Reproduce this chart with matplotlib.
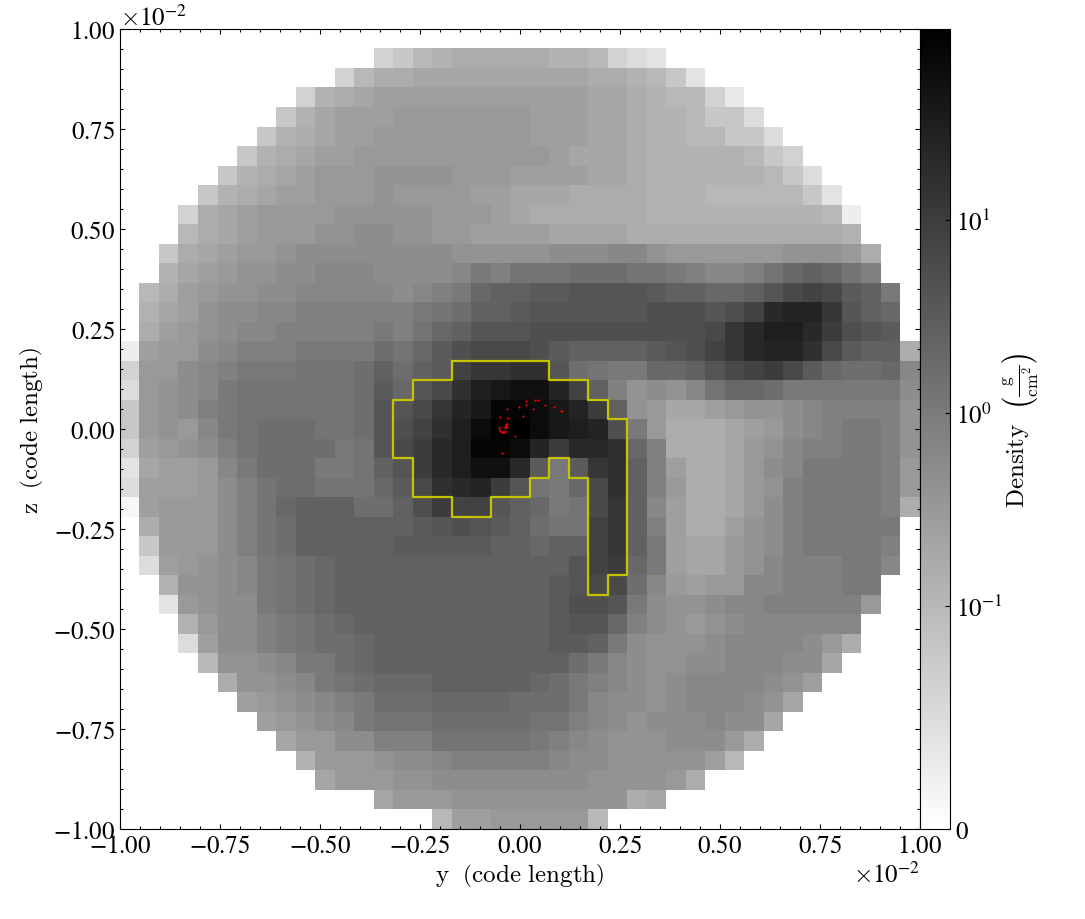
"""Gas density slice with a clump contour and sink particles, on a symlog grey scale."""
import matplotlib
matplotlib.use("Agg")
import matplotlib.pyplot as plt
from matplotlib.colors import SymLogNorm
from matplotlib.ticker import AutoMinorLocator, FixedFormatter, FixedLocator
import numpy as np

plt.rcParams["font.family"] = "STIXGeneral"
plt.rcParams["mathtext.fontset"] = "cm"

N_CELLS = 41
HALF_WIDTH = 1.0e-2

# log10(density) in tenths of a dex, read off the grey levels row by row from the
# top. Each row is centred on the grid; anything outside it is empty.
LOG_DENSITY_ROWS = [
    [],
    [-12, -11, -10, -9, -8, -8, -8, -8, -8, -9, -9, -10, -12, -13, -14],
    [-12, -10, -8, -8, -7, -7, -7, -7, -7, -7, -7, -7, -7, -8, -8, -9, -10, -11, -14],
    [-12, -9, -8, -7, -6, -6, -6, -6, -6, -6, -6, -6, -6, -6, -6, -7, -7, -8, -9, -10, -10, -12, -15],
    [-11, -9, -7, -6, -6, -6, -5, -5, -5, -5, -5, -5, -5, -6, -6, -6, -7, -7, -8, -9, -9, -10, -11, -11, -13],
    [-11, -9, -8, -7, -6, -6, -5, -5, -5, -5, -5, -5, -5, -5, -6, -6, -6, -7, -7, -8, -9, -9, -10, -10, -11, -11, -13],
    [-11, -9, -8, -7, -6, -6, -5, -5, -5, -5, -5, -5, -5, -5, -5, -5, -6, -7, -7, -7, -8, -9, -9, -9, -9, -9, -10, -11, -12],
    [-11, -9, -8, -7, -6, -5, -5, -5, -4, -4, -4, -4, -5, -5, -5, -6, -6, -6, -6, -7, -7, -8, -9, -9, -9, -9, -9, -9, -10, -11, -13],
    [-11, -9, -8, -7, -6, -6, -5, -5, -5, -4, -5, -5, -5, -5, -6, -6, -7, -7, -7, -8, -8, -8, -8, -9, -9, -9, -10, -10, -10, -10, -10, -11, -14],
    [-12, -8, -7, -6, -5, -5, -5, -5, -4, -4, -4, -4, -4, -5, -5, -5, -6, -7, -8, -8, -8, -8, -8, -8, -9, -9, -9, -9, -9, -9, -9, -9, -9, -10, -16],
    [-10, -8, -7, -6, -5, -5, -5, -4, -4, -3, -3, -4, -4, -5, -5, -6, -6, -6, -6, -7, -7, -7, -7, -8, -8, -8, -8, -8, -8, -8, -8, -8, -8, -8, -9],
    [-11, -8, -7, -6, -5, -5, -4, -3, -3, -3, -3, -3, -3, -3, -3, -4, -4, -4, -4, -4, -3, -3, -3, -2, -2, -4, -5, -5, -5, -5, -5, -5, -4, -4, -4, -5, -8],
    [-9, -7, -6, -5, -4, -4, -3, -3, -2, -2, -2, -3, -3, -3, -3, -2, 0, -1, 1, 1, 1, 2, 2, 2, 1, 1, 0, -1, -2, -2, -1, 1, 3, 4, 3, 1, -1],
    [-10, -8, -6, -5, -4, -4, -3, -3, -2, -2, -2, -2, -2, -3, -2, -1, 0, 3, 4, 4, 5, 5, 6, 6, 6, 6, 5, 4, 4, 3, 3, 4, 6, 8, 9, 8, 5, 4, 0],
    [-9, -7, -6, -4, -3, -3, -2, -2, -1, -1, -1, -1, -1, -1, 0, 1, 2, 4, 4, 5, 6, 6, 6, 6, 6, 6, 7, 7, 7, 6, 7, 9, 13, 14, 14, 11, 6, 4, 3],
    [-8, -6, -5, -4, -3, -2, -2, -1, -1, -1, -1, -1, 0, -1, 1, 3, 4, 6, 6, 6, 7, 7, 7, 7, 7, 7, 7, 7, 7, 8, 11, 13, 15, 15, 13, 10, 7, 6, 5],
    [-16, -6, -5, -5, -3, -2, -1, -1, -1, 0, 0, 0, 0, 2, 1, 3, 5, 7, 8, 8, 8, 7, 5, 4, 4, 4, 4, 5, 6, 7, 9, 11, 13, 14, 14, 12, 8, 5, 4, 4, -8],
    [-12, -5, -5, -3, -2, -1, 0, 0, 0, 1, 1, 1, 2, 4, 2, 4, 5, 9, 11, 11, 12, 12, 6, 2, 1, 0, 0, 3, 3, 4, 6, 8, 9, 10, 8, 5, 3, 2, 2, 3, -2],
    [-13, -5, -4, -3, -2, 0, 1, 1, 1, 1, 1, 1, 2, 5, 3, 6, 8, 12, 15, 16, 17, 17, 14, 9, 4, -1, -4, -3, -4, -2, 1, 3, 3, 2, 0, 0, 0, 0, 0, 0, -3],
    [-11, -5, -4, -3, -1, 0, 1, 1, 1, 1, 1, 1, 2, 6, 6, 8, 11, 14, 16, 19, 19, 18, 16, 14, 10, 4, -4, -5, -7, -7, -6, -5, -4, -4, -3, -2, -1, -1, -1, -1, -4],
    [-11, -5, -4, -5, -2, 0, 1, 2, 2, 2, 1, 1, 2, 6, 7, 9, 12, 15, 18, 20, 20, 18, 16, 15, 14, 7, 0, -5, -8, -8, -8, -7, -6, -5, -3, -2, -1, 0, 0, -1, -4],
    [-12, -6, -5, -4, -3, -1, 1, 2, 2, 2, 2, 0, 1, 6, 8, 10, 13, 15, 19, 19, 18, 14, 10, 13, 13, 12, 3, -1, -8, -8, -8, -7, -5, -4, -2, -1, -1, 0, 0, -1, -4],
    [-14, -7, -6, -6, -5, -2, 0, 2, 2, 2, 0, 0, 1, 4, 6, 10, 13, 15, 17, 17, 13, 5, 0, 5, 11, 12, 4, -1, -6, -8, -8, -7, -5, -3, -2, 0, 0, 0, 0, -1, -5],
    [-13, -6, -6, -6, -5, -3, -1, 1, 2, 2, 1, 1, 1, 3, 5, 8, 12, 13, 14, 10, 6, 1, 0, 3, 8, 12, 4, -1, -5, -8, -8, -7, -5, -4, -1, 0, 0, 0, 0, -1, -5],
    [-19, -6, -5, -5, -5, -3, -1, 1, 3, 4, 4, 4, 2, 2, 4, 7, 10, 9, 9, 6, 4, 3, 0, 1, 8, 11, 4, -2, -6, -8, -8, -7, -5, -3, -1, 0, 0, 0, 0, -1, -8],
    [-8, -5, -5, -5, -3, -1, 1, 2, 4, 4, 4, 4, 4, 4, 5, 6, 7, 6, 5, 4, 2, 1, 1, 9, 11, 4, -1, -6, -8, -8, -6, -4, -3, -1, 0, 0, 0, 0, 0],
    [-11, -5, -5, -5, -3, -1, 1, 2, 4, 4, 4, 4, 4, 5, 5, 5, 5, 5, 4, 4, 3, 4, 4, 9, 11, 4, 0, -6, -7, -7, -5, -4, -3, -1, 0, 0, 0, 0, -1],
    [-13, -6, -5, -4, -3, -2, 0, 1, 2, 3, 4, 4, 4, 4, 4, 4, 4, 4, 4, 4, 4, 4, 6, 9, 10, 3, 0, -6, -7, -7, -5, -4, -2, -1, -1, -1, 0, 0, -2],
    [-9, -4, -4, -3, -2, 0, 1, 2, 3, 4, 4, 4, 4, 4, 4, 4, 4, 4, 4, 4, 5, 6, 8, 8, 2, -2, -5, -6, -5, -5, -2, -2, -1, -1, -1, 0, 0],
    [-14, -5, -4, -3, -3, 0, 1, 2, 3, 4, 4, 4, 4, 4, 4, 4, 4, 4, 4, 4, 5, 7, 7, 6, 0, -3, -4, -4, -3, -2, -2, -1, -1, -1, -1, -1, -5],
    [-9, -5, -3, -3, -1, 0, 1, 2, 3, 4, 4, 4, 4, 4, 4, 4, 4, 4, 4, 5, 6, 6, 3, -1, -3, -4, -5, -4, -3, -2, -2, -2, -2, -2, -2],
    [-13, -6, -3, -3, -1, 0, 1, 2, 2, 3, 4, 4, 4, 4, 4, 4, 4, 4, 4, 5, 5, 4, 0, -3, -4, -4, -4, -3, -2, -2, -2, -2, -3, -5, -8],
    [-10, -4, -4, -3, -2, 0, 0, 2, 3, 4, 4, 4, 4, 4, 4, 4, 4, 4, 4, 2, 0, -2, -3, -4, -4, -3, -3, -2, -2, -2, -3, -3, -7],
    [-8, -4, -4, -3, -2, 0, 1, 2, 3, 3, 3, 4, 4, 4, 4, 4, 3, 2, 0, -1, -2, -3, -4, -3, -2, -2, -2, -2, -3, -4, -6],
    [-6, -5, -4, -3, -2, -1, 0, 2, 2, 2, 3, 3, 3, 3, 2, 2, 2, 0, -2, -3, -3, -4, -3, -2, -2, -2, -3, -4, -7],
    [-6, -5, -4, -3, -2, 0, 1, 1, 1, 2, 2, 2, 2, 2, 1, 1, -1, -2, -3, -4, -3, -3, -3, -2, -3, -3, -7],
    [-7, -5, -5, -3, -3, -1, -1, -1, 1, 1, 1, 1, 1, 0, -1, -2, -3, -4, -4, -4, -3, -3, -3, -5, -8],
    [-9, -5, -5, -5, -4, -3, -3, -2, -1, -1, -1, -1, -1, -2, -3, -3, -4, -4, -4, -4, -4, -6, -10],
    [-7, -5, -5, -5, -4, -4, -3, -3, -3, -3, -3, -3, -3, -3, -4, -4, -4, -4, -5, -8],
    [-7, -5, -5, -5, -4, -4, -4, -4, -4, -4, -4, -4, -4, -8, -7],
    [-10, -6, -6, -5, -5, -5, -5, -5, -10],
]

# clump outline, walked along cell edges (edge number from the left / from the top)
CLUMP_COL_EDGES = [17, 22, 22, 24, 24, 25, 25, 26, 26, 25, 25, 24, 24, 23, 23, 22, 22,
                   21, 21, 19, 19, 17, 17, 15, 15, 14, 14, 15, 15, 17, 17]
CLUMP_ROW_EDGES = [17, 17, 18, 18, 19, 19, 20, 20, 28, 28, 29, 29, 23, 23, 22, 22, 23,
                   23, 24, 24, 25, 25, 24, 24, 22, 22, 19, 19, 18, 18, 17]

# particle positions, in units of 1e-2 code lengths
PARTICLE_Y = [0.0142, 0.0383, 0.0458, 0.0158, -0.0017, 0.0617, -0.0333, 0.0333, 0.0858,
              0.1017, 0.105, -0.0492, -0.0308, 0.0083, -0.0358, -0.0333, -0.0383, -0.035,
              -0.0333, -0.0525, -0.0517, -0.0367, -0.0342, -0.0383, -0.0417, -0.0442,
              -0.0492, -0.0458, -0.0392, -0.0133, -0.0442]
PARTICLE_Z = [0.07, 0.0725, 0.0725, 0.0608, 0.055, 0.0608, 0.0492, 0.0492, 0.0542,
              0.0458, 0.0442, 0.0308, 0.0267, 0.0325, 0.0125, 0.0125, 0.0083, 0.0058,
              0.0042, 0.0042, 0.0008, 0.0017, 0.0083, -0.0042, -0.0067, -0.0075,
              -0.0042, -0.0083, -0.0075, -0.0183, -0.0608]

CBAR_TICKS = [0, 0.1, 1, 10]
CBAR_LABELS = ["0", r"$\mathdefault{10^{-1}}$", r"$\mathdefault{10^{0}}$", r"$\mathdefault{10^{1}}$"]


def density_grid():
    """Pad the centred rows out to the full grid, empty cells as NaN."""
    grid = np.full((N_CELLS, N_CELLS), np.nan)
    for r, row in enumerate(LOG_DENSITY_ROWS):
        pad = (N_CELLS - len(row)) // 2
        grid[r, pad:pad + len(row)] = row
    return 10.0 ** (grid / 10.0)


def edge_to_coord(edges, flip=False):
    coords = -HALF_WIDTH + 2 * HALF_WIDTH * np.asarray(edges, dtype=float) / N_CELLS
    return -coords if flip else coords


def style_axis(ax):
    ax.ticklabel_format(style="sci", scilimits=(0, 0), useMathText=True)
    ax.xaxis.set_minor_locator(AutoMinorLocator(5))
    ax.yaxis.set_minor_locator(AutoMinorLocator(5))
    ax.tick_params(which="both", direction="in", top=True, right=True, labelsize=18)
    ax.tick_params(which="major", length=3.5, width=0.8)
    ax.tick_params(which="minor", length=2, width=0.8)
    ax.xaxis.get_offset_text().set_fontsize(18)
    ax.yaxis.get_offset_text().set_fontsize(18)


def main():
    fig = plt.figure(figsize=(10.85, 9.2), dpi=100)
    ax = fig.add_axes([120 / 1085, 90 / 920, 800 / 1085, 800 / 920])
    cax = fig.add_axes([920 / 1085, 90 / 920, 30 / 1085, 800 / 920])

    norm = SymLogNorm(linthresh=0.1, linscale=1.04, vmin=0, vmax=97, base=10)
    cmap = plt.get_cmap("binary").copy()
    cmap.set_bad("white")
    im = ax.imshow(np.ma.masked_invalid(density_grid()), cmap=cmap, norm=norm, origin="upper",
                   interpolation="nearest", aspect="auto",
                   extent=[-HALF_WIDTH, HALF_WIDTH, -HALF_WIDTH, HALF_WIDTH])

    ax.plot(edge_to_coord(CLUMP_COL_EDGES), edge_to_coord(CLUMP_ROW_EDGES, flip=True),
            color="#c4c400", linewidth=1.6, solid_joinstyle="round")
    ax.scatter(np.array(PARTICLE_Y) * 1e-2, np.array(PARTICLE_Z) * 1e-2, s=9, marker=".",
               color="red", linewidths=0, zorder=4)

    ax.set_xlim(-HALF_WIDTH, HALF_WIDTH)
    ax.set_ylim(-HALF_WIDTH, HALF_WIDTH)
    style_axis(ax)
    ax.set_xlabel(r"$\mathrm{y}\ \ \left(\mathrm{code\ length}\right)$", fontsize=18, labelpad=2)
    ax.set_ylabel(r"$\mathrm{z}\ \ \left(\mathrm{code\ length}\right)$", fontsize=18, labelpad=6)

    cbar = fig.colorbar(im, cax=cax)
    cbar.ax.yaxis.set_major_locator(FixedLocator(CBAR_TICKS))
    cbar.ax.yaxis.set_major_formatter(FixedFormatter(CBAR_LABELS))
    cbar.ax.yaxis.set_minor_locator(FixedLocator([]))
    cbar.ax.tick_params(which="major", direction="in", length=3.5, width=0.8, labelsize=18, pad=4)
    cbar.set_label(r"$\mathrm{Density}\ \ \left(\frac{\mathrm{g}}{\mathrm{cm}^{2}}\right)$",
                   fontsize=18, labelpad=-1.5)

    fig.savefig("out.png", dpi=100)
    plt.close(fig)


if __name__ == "__main__":
    main()
